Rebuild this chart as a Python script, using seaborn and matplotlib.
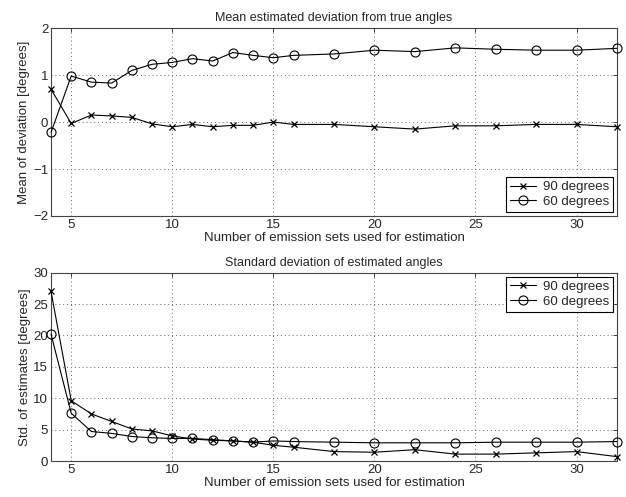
import matplotlib
matplotlib.use("Agg")
import matplotlib.pyplot as plt
import seaborn as sns
import pandas as pd

sets = [4, 5, 6, 7, 8, 9, 10, 11, 12, 13, 14, 15, 16, 18, 20, 22, 24, 26, 28, 30, 32]
mean_90 = [0.70, -0.03, 0.15, 0.13, 0.10, -0.04, -0.10, -0.05, -0.10, -0.07, -0.07, 0.00,
           -0.05, -0.05, -0.10, -0.15, -0.08, -0.08, -0.05, -0.05, -0.10]
mean_60 = [-0.22, 0.98, 0.85, 0.83, 1.10, 1.23, 1.27, 1.35, 1.30, 1.48, 1.42, 1.37,
           1.42, 1.45, 1.53, 1.50, 1.58, 1.55, 1.53, 1.53, 1.57]
std_90 = [27.0, 9.6, 7.5, 6.3, 5.1, 4.8, 4.0, 3.5, 3.3, 3.2, 3.0, 2.5,
          2.2, 1.5, 1.4, 1.8, 1.1, 1.1, 1.3, 1.5, 0.7]
std_60 = [20.2, 7.6, 4.7, 4.4, 3.9, 3.7, 3.6, 3.6, 3.4, 3.2, 3.0, 3.2,
          3.1, 3.0, 2.9, 2.9, 2.9, 3.0, 3.0, 3.0, 3.1]
labels = ["90 degrees", "60 degrees"]

sns.set_style("white")
plt.rcParams['font.family'] = ['Liberation Sans', 'DejaVu Sans']

fig = plt.figure(figsize=(6.26, 4.97), dpi=100)
ax1 = fig.add_axes([0.0815, 0.5654, 0.904, 0.378])
ax2 = fig.add_axes([0.0815, 0.0724, 0.904, 0.379])

def draw(ax, s90, s60, title, ylabel, ylim, yticks, loc):
    df = pd.DataFrame({"x": sets, "a": s90, "b": s60})
    sns.lineplot(data=df, x="x", y="a", ax=ax, color="black", marker="x", markersize=5,
                 markeredgecolor="black", markeredgewidth=0.9, linewidth=0.8,
                 label=labels[0], clip_on=False, zorder=3)
    sns.lineplot(data=df, x="x", y="b", ax=ax, color="black", marker="o", markersize=6.5,
                 markerfacecolor="none", markeredgecolor="black", markeredgewidth=0.8,
                 linewidth=0.8, label=labels[1], clip_on=False, zorder=3)
    ax.set_xlim(4, 32)
    ax.set_ylim(*ylim)
    ax.set_yticks(yticks)
    ax.set_xticks([5, 10, 15, 20, 25, 30])
    ax.grid(True, linestyle=(0, (1, 3)), color="#666666", linewidth=0.7)
    ax.set_title(title, fontsize=9, pad=5)
    ax.set_xlabel("Number of emission sets used for estimation", fontsize=9.5, labelpad=1)
    ax.set_ylabel(ylabel, fontsize=9.5, labelpad=2)
    ax.tick_params(axis="both", labelsize=9.5, direction="in", length=3, width=0.6,
                   top=True, right=True, pad=2)
    for sp in ax.spines.values():
        sp.set_color("#444444")
        sp.set_linewidth(0.8)
    leg = ax.legend(loc=loc, fontsize=9.5, frameon=True, fancybox=False, framealpha=1,
                    edgecolor="black", borderpad=0.3, labelspacing=0.2,
                    handlelength=2.0, handletextpad=0.5, borderaxespad=0.3)
    leg.get_frame().set_linewidth(0.8)
    leg.set_zorder(5)

draw(ax1, mean_90, mean_60, "Mean estimated deviation from true angles",
     "Mean of deviation [degrees]", (-2, 2), [-2, -1, 0, 1, 2], "lower right")
draw(ax2, std_90, std_60, "Standard deviation of estimated angles",
     "Std. of estimates [degrees]", (0, 30), [0, 5, 10, 15, 20, 25, 30], "upper right")

fig.savefig("out.png", dpi=100)
